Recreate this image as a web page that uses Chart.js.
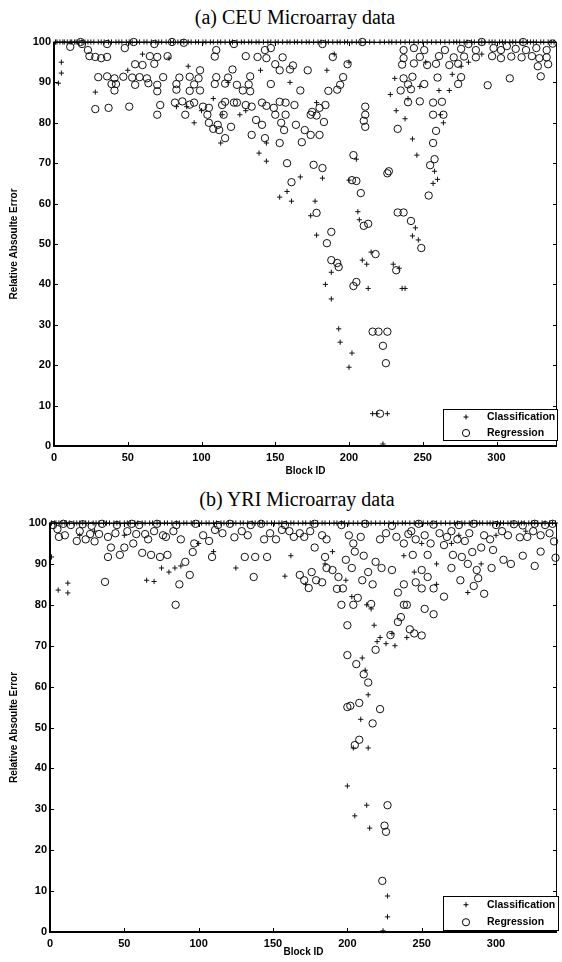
<!DOCTYPE html>
<html>
<head>
<meta charset="utf-8">
<script src="https://cdn.jsdelivr.net/npm/chart.js@4.4.1/dist/chart.umd.min.js"></script>
<style>
  body { margin: 0; background: #fff; width: 562px; height: 962px; overflow: hidden; position: relative; }
  .panel { position: absolute; left: 0; width: 562px; height: 481px; }
  .panel canvas { position: absolute; left: 0; top: 0; }
  .panel-title { position: absolute; left: 0; width: 562px; text-align: center; font-family: "Liberation Serif", "DejaVu Serif", serif; font-size: 20px; color: #000; white-space: nowrap; }
</style>
</head>
<body>
<div class="panel" style="top:0">
  <div class="panel-title" style="top:6px; left:34px; width:522px">(a) CEU Microarray data</div>
  <canvas id="ceuChart" width="562" height="481"></canvas>
</div>
<div class="panel" style="top:481px">
  <div class="panel-title" style="top:7px; left:36px; width:522px">(b) YRI Microarray data</div>
  <canvas id="yriChart" width="562" height="481"></canvas>
</div>
<script>
/* ---------------- AXES ---------------- */

const xTicks = [0, 50, 100, 150, 200, 250, 300];
const yTicks = [0, 10, 20, 30, 40, 50, 60, 70, 80, 90, 100];
const X_MAX = 341;
const seriesNames = ["Classification", "Regression"];

/* ---------------- CEU DATA ---------------- */

// blocks where classification error sits on the 100 line
const ceuClsAt100 = [1, 2, 4, 6, 7, 9, 11, 12, 14, 15, 17, 19, 21, 23, 25, 27, 30, 32, 34, 37, 39, 42, 44,
  46, 49, 51, 53, 56, 58, 61, 63, 66, 69, 71, 73, 76, 79, 81, 84, 86, 88, 91, 93, 96, 98, 101, 103, 106,
  108, 111, 113, 116, 119, 121, 124, 127, 129, 132, 134, 137, 139, 142, 145, 147, 150, 152, 155, 158, 160,
  163, 165, 168, 171, 173, 176, 179, 181, 184, 186, 189, 192, 194, 197, 199, 202, 205, 208, 211, 214, 217,
  221, 224, 227, 229, 232, 235, 238, 241, 244, 247, 250, 253, 256, 259, 262, 265, 268, 271, 273, 275, 278,
  280, 283, 285, 288, 290, 292, 295, 297, 299, 302, 304, 306, 309, 311, 313, 316, 318, 321, 323, 325, 327,
  330, 332, 335, 337, 339];

const ceuCls = [
  [3, 89.8], [5, 95], [5, 92.3], [28, 87.6], [50, 93], [60, 97], [78, 96], [83, 84], [90, 84], [91, 94],
  [95, 80], [100, 83], [108, 86], [113, 75], [114, 82], [118, 90], [126, 82], [130, 83], [139, 72.5],
  [140, 93], [144, 75], [144, 70.5], [153, 61.6], [158, 63], [160, 90], [161, 60.6], [167, 66.6],
  [174, 57], [177, 60.6], [178, 85], [178, 52.2], [182, 66.3], [184, 40], [185, 93], [188, 43],
  [188, 36.4], [190, 97], [193, 29], [194, 25.7], [200, 95], [200, 65.8], [200, 19.5], [202, 23],
  [205, 71], [206, 58], [207, 56], [209, 46], [212, 45], [213, 39], [215, 48], [216, 8], [219, 8],
  [223, 0.5], [226, 8], [228, 87], [230, 45], [231, 91], [232, 83], [234, 44], [236, 39], [238, 39],
  [238, 81], [240, 86], [243, 52], [243, 76], [245, 54], [246, 72], [247, 51], [248, 89], [252, 95],
  [257, 65], [258, 68], [260, 66], [261, 88], [262, 82], [264, 80], [268, 88], [270, 92], [276, 94],
  [281, 95], [290, 97]
];

const ceuReg = [
  [11, 98.8], [18, 100], [19, 99.5], [23, 98], [36, 99.5], [48, 98.5], [54, 100], [68, 99.5], [80, 100],
  [88, 99.8], [110, 98], [122, 99.5], [143, 98], [147, 98.5], [182, 99.5], [209, 100], [237, 98],
  [244, 98.5], [251, 98], [265, 98], [276, 98.3], [281, 99.5], [286, 98], [290, 100], [298, 98.5],
  [303, 98], [307, 99], [313, 98.3], [318, 100], [320, 98], [327, 98.5], [334, 98], [338, 99.6],
  [24, 96.5], [28, 96.3], [32, 96], [36, 96.3], [65, 96.5], [70, 96.3], [77, 96.5], [109, 96.4],
  [130, 96.5], [138, 96.3], [144, 96], [155, 96.2], [189, 96.3], [237, 96], [248, 96.3], [261, 96.5],
  [271, 96.2], [278, 96.4], [286, 96.2], [297, 96.5], [303, 96], [310, 96.4], [317, 96.2], [324, 96.5],
  [329, 96], [334, 96.2],
  [55, 94.5], [60, 94.3], [68, 94.6], [150, 94.5], [162, 94.2], [199, 94.5], [236, 94.4], [244, 94.7],
  [253, 94.3], [259, 94.6], [268, 94.3], [274, 94.6], [328, 94], [335, 94.5], [99, 93], [121, 93.2],
  [153, 93], [160, 93.2], [172, 93],
  [30, 91.3], [36, 91.5], [41, 91], [47, 91.4], [53, 91.2], [58, 91.3], [63, 91], [74, 91.3], [85, 91.2],
  [92, 91.4], [98, 91], [110, 91.3], [118, 91.2], [133, 91.5], [196, 91.3], [237, 91], [243, 91.4],
  [260, 91.2], [276, 91.3], [309, 91], [330, 91.5],
  [39, 89.6], [42, 89.6], [55, 89.4], [64, 89.8], [70, 89.4], [83, 89.6], [95, 89.5], [109, 89.6],
  [116, 89.7], [124, 89.4], [132, 89.5], [147, 89.6], [194, 89.4], [240, 89.5], [251, 89.6], [274, 89.6],
  [294, 89.3],
  [41, 88], [70, 87.8], [83, 88.2], [92, 87.9], [99, 88], [128, 88], [133, 87.8], [167, 88], [186, 87.9],
  [192, 88.2], [235, 88], [242, 88.3],
  [82, 85], [87, 85.3], [95, 85], [116, 85.2], [122, 85], [141, 85], [153, 85.2], [240, 85.1], [248, 85.3],
  [257, 85], [263, 85.2],
  [72, 84.4], [92, 84.5], [101, 84], [105, 83.7], [114, 84.4], [124, 85], [130, 84.4], [134, 84],
  [144, 84.2], [149, 83.7], [157, 85], [163, 84.4], [175, 82.7], [180, 83.7], [184, 84.4],
  [28, 83.4], [37, 83.7], [51, 84], [70, 82], [89, 82], [104, 82], [115, 82], [150, 82], [157, 82],
  [174, 82], [178, 81.8], [211, 82], [257, 82], [264, 82],
  [105, 80], [111, 79.5], [112, 78.2], [120, 79], [116, 76.2], [137, 80.7], [141, 79.5], [134, 77],
  [143, 76.2], [154, 80], [156, 78.2], [164, 79.5], [170, 78.2], [174, 77], [180, 77], [183, 80.2],
  [108, 78.5], [211, 79], [233, 78.5], [210, 80.5], [211, 84],
  [153, 75], [168, 75.2], [158, 70], [176, 69.6], [182, 68.8], [161, 65.3], [203, 72], [202, 65.8],
  [205, 65.6], [226, 67.5], [227, 68], [257, 75], [259, 78], [255, 69.5], [258, 71],
  [178, 57.7], [188, 53], [185, 50.2], [188, 46], [192, 45.3], [193, 44.3], [208, 62.6], [210, 54.5],
  [213, 55], [218, 47.5], [203, 39.6], [205, 40.6], [233, 57.8], [237, 57.8], [232, 43.5], [242, 55.7],
  [254, 62], [249, 49],
  [216, 28.3], [220, 28.3], [226, 28.3], [223, 24.8], [225, 20.5], [221, 8]
];

/* ---------------- YRI DATA ---------------- */

const yriClsAt100 = [1, 3, 4, 6, 8, 10, 11, 13, 16, 18, 20, 22, 24, 26, 29, 31, 33, 36, 38, 40, 43, 45, 47,
  50, 52, 54, 57, 59, 62, 64, 67, 69, 72, 74, 77, 79, 82, 85, 87, 90, 92, 95, 97, 100, 102, 105, 107, 110,
  112, 115, 117, 120, 123, 125, 128, 130, 133, 136, 138, 141, 143, 146, 149, 151, 154, 156, 159, 162, 164,
  167, 170, 172, 175, 177, 180, 183, 185, 188, 191, 193, 196, 198, 201, 204, 207, 210, 213, 216, 219, 222,
  225, 228, 231, 234, 237, 239, 242, 245, 248, 251, 254, 257, 260, 263, 266, 269, 272, 274, 277, 279, 282,
  284, 287, 289, 291, 294, 296, 298, 301, 303, 305, 308, 310, 312, 315, 317, 319, 322, 324, 326, 328, 331,
  333, 336, 338, 340];

const yriCls = [
  [1, 91.7], [5.5, 83.6], [12, 85.3], [12, 82.9], [20, 97], [30, 98], [50, 97], [65, 86], [70, 85.7],
  [75, 89], [80, 88], [84, 89], [88, 89.5], [100, 95], [110, 93], [125, 89], [158, 87], [162, 92],
  [172, 85], [185, 90], [190, 93], [199, 86], [200, 35.7], [203, 82], [204, 45], [205, 28.4], [209, 52],
  [210, 67], [212, 64], [213, 80], [213, 31], [214, 58], [214, 45], [215, 25.4], [216, 79], [218, 75],
  [220, 71], [222, 72], [224, 0.3], [226, 70.5], [227, 8.8], [227, 3.7], [230, 73], [232, 70], [238, 92],
  [240, 72], [245, 88], [250, 95], [260, 90], [260, 85], [270, 95], [275, 97], [281, 83], [290, 90],
  [300, 97], [320, 98]
];

const yriReg = [
  [2, 99.5], [5, 98.5], [9, 99.8], [14, 99.5], [22, 99.7], [28, 99.3], [35, 99.8], [45, 99.5], [55, 99.8],
  [60, 99.5], [72, 99.8], [85, 99.5], [98, 99.8], [113, 99.5], [121, 99.8], [135, 99.5], [142, 99.8],
  [158, 99.5], [178, 99.8], [196, 99.5], [212, 99.8], [230, 99.3], [248, 99.8], [258, 99.6], [275, 99.5],
  [285, 99.8], [300, 99.5], [312, 99.7], [318, 99.4], [326, 99.8], [333, 99.5], [338, 99.8],
  [10, 97], [20, 98], [24, 96], [30, 95.5], [44, 97.5], [52, 98], [56, 95], [66, 96], [70, 98], [76, 97],
  [83, 98], [88, 96], [103, 97], [116, 97.5], [124, 96.5], [129, 98], [133, 97], [148, 97.5], [161, 98],
  [168, 97.5], [175, 98], [186, 96], [201, 97], [204, 95], [222, 96], [226, 97.5], [238, 95], [243, 98],
  [252, 97], [256, 95], [262, 97.5], [270, 98], [274, 96], [282, 97.5], [292, 97], [296, 96], [304, 98],
  [308, 97], [316, 96.5], [325, 98], [330, 97], [336, 97.5],
  [6, 96.6], [18, 95.6], [27, 97.3], [33, 97.3], [39, 96.6], [41, 94], [39, 91.7], [47, 92.2], [50, 94],
  [37, 85.6], [58, 97.3], [62, 92.7], [64, 97.3], [68, 92.2], [74, 91.7], [78, 96.6], [79, 92.2],
  [91, 90.5], [96, 92.9], [97, 95], [87, 85], [94, 87.3], [84.5, 80], [107, 95.6], [109, 91.7], [111, 98.3],
  [137, 86.8], [131, 91.7], [138, 91.7], [144, 96], [152, 96], [146, 91.7], [156, 98.3], [164, 96.6],
  [171, 96.6], [178, 94], [183, 97], [185, 91.7], [190, 88.5], [194, 86.8], [168, 87.3], [171, 86],
  [174, 84.1], [193, 83.9], [197, 84], [209, 96.6], [219, 90.5], [223, 89], [230, 88.5], [233, 96.6],
  [241, 97.3], [246, 96], [244, 92.2], [254, 92.2], [250, 88.5], [254, 86.8], [250, 84], [258, 84],
  [265, 94.6], [267, 96.6], [279, 95.6], [284, 92.9], [290, 94], [298, 93.4], [287, 88.5], [271, 92.2],
  [277, 91.7], [285, 84.6], [321, 96.6], [340, 91.5], [339, 95.5],
  [217, 85], [216, 80.2], [207, 81.7], [238, 80], [258, 77.7],
  [200, 67.7], [206, 65.5], [200, 55], [202, 55.3], [208, 56], [205, 45.7], [208, 47], [217, 51],
  [222, 54.5], [225, 26], [227, 31], [226, 24.5], [223.5, 12.5], [229, 72.6], [234, 75.8], [211, 63],
  [214, 61], [219, 69], [236, 77], [242, 74], [245, 73], [250, 72.5], [240, 80], [252, 79], [234, 83],
  [238, 85], [246, 85.5], [200, 75], [196, 80], [204, 80], [210, 86], [214, 88], [203, 89], [199, 91],
  [205, 93], [211, 92], [183, 85.5], [179, 86], [176, 88], [186, 89], [265, 82], [270, 89], [276, 86],
  [281, 90], [292, 82.7], [305, 91], [310, 90], [318, 92], [326, 89.5], [330, 93], [288, 86.5], [297, 89]
];

/* ---------------- PLUGINS ---------------- */

// box frame with inward ticks, heavier left/bottom axis lines
const framePlugin = {
  id: "frame",
  afterDatasetsDraw(chart) {
    const { ctx, chartArea: a, scales: { x, y } } = chart;
    ctx.save();
    ctx.strokeStyle = "#000";
    ctx.lineWidth = 1;
    ctx.beginPath();
    x.ticks.forEach((t) => {
      const px = Math.round(x.getPixelForValue(t.value)) + 0.5;
      ctx.moveTo(px, a.bottom);
      ctx.lineTo(px, a.bottom - 4);
      ctx.moveTo(px, a.top);
      ctx.lineTo(px, a.top + 4);
    });
    y.ticks.forEach((t) => {
      const py = Math.round(y.getPixelForValue(t.value)) + 0.5;
      ctx.moveTo(a.left, py);
      ctx.lineTo(a.left + 4, py);
      ctx.moveTo(a.right, py);
      ctx.lineTo(a.right - 4, py);
    });
    ctx.stroke();
    ctx.strokeRect(a.left + 0.5, a.top + 0.5, a.width - 1, a.height - 1);
    ctx.lineWidth = 2;
    ctx.beginPath();
    ctx.moveTo(a.left, a.top);
    ctx.lineTo(a.left, a.bottom);
    ctx.lineTo(a.right, a.bottom);
    ctx.stroke();
    ctx.restore();
  },
};

// legend box sitting inside the plot, lower right
const boxLegendPlugin = {
  id: "boxLegend",
  afterDraw(chart, args, opts) {
    const { ctx } = chart;
    const { left, top, right, bottom } = opts;
    ctx.save();
    ctx.fillStyle = "#fff";
    ctx.fillRect(left, top, right - left, bottom - top);
    ctx.strokeStyle = "#000";
    ctx.lineWidth = 1;
    ctx.strokeRect(left + 0.5, top + 0.5, right - left - 1, bottom - top - 1);

    const rowH = (bottom - top) / 2;
    chart.data.datasets.forEach((ds, i) => {
      const cy = top + rowH * (i + 0.5);
      const mx = left + 23;
      ctx.strokeStyle = "#000";
      ctx.lineWidth = 1;
      ctx.beginPath();
      if (ds.pointStyle === "cross") {
        ctx.moveTo(mx - 2.5, cy);
        ctx.lineTo(mx + 2.5, cy);
        ctx.moveTo(mx, cy - 2.5);
        ctx.lineTo(mx, cy + 2.5);
      } else {
        ctx.arc(mx, cy, 3.6, 0, Math.PI * 2);
      }
      ctx.stroke();
      ctx.fillStyle = "#000";
      ctx.font = "bold 10.5px 'Liberation Sans', Arial, sans-serif";
      ctx.textBaseline = "middle";
      ctx.textAlign = "left";
      ctx.fillText(ds.label, left + 44, cy);
    });
    ctx.restore();
  },
};

/* ---------------- CHARTS ---------------- */

function toPoints(pairs) {
  return pairs.map(([x, y]) => ({ x, y }));
}

function makeChart(id, clsPoints, regPoints, area, legendBox) {
  const ctx = document.getElementById(id).getContext("2d");
  const tickFont = { family: "'Liberation Sans', Arial, sans-serif", size: 11, weight: "bold" };
  const titleFont = { family: "'Liberation Sans', Arial, sans-serif", size: 10, weight: "bold" };

  return new Chart(ctx, {
    type: "scatter",
    data: {
      datasets: [
        {
          label: seriesNames[0],
          data: clsPoints,
          pointStyle: "cross",
          pointRadius: 2.6,
          borderColor: "#111",
          borderWidth: 1,
          clip: false,
        },
        {
          label: seriesNames[1],
          data: regPoints,
          pointStyle: "circle",
          pointRadius: 3.7,
          borderColor: "#111",
          backgroundColor: "rgba(0,0,0,0)",
          borderWidth: 1,
          clip: false,
        },
      ],
    },
    options: {
      responsive: false,
      animation: false,
      events: [],
      layout: { padding: { left: 0, top: area.top, right: 562 - area.right, bottom: 0 } },
      plugins: {
        legend: { display: false },
        tooltip: { enabled: false },
        boxLegend: legendBox,
      },
      scales: {
        x: {
          type: "linear",
          min: 0,
          max: X_MAX,
          afterBuildTicks: (s) => { s.ticks = xTicks.map((v) => ({ value: v })); },
          afterFit: (s) => { s.height = 481 - area.bottom; },
          grid: { display: false, drawTicks: false },
          border: { display: false },
          ticks: { color: "#000", font: tickFont, padding: 5, maxRotation: 0 },
          title: { display: true, text: "Block ID", color: "#000", font: titleFont, padding: { top: 0, bottom: 4 } },
        },
        y: {
          type: "linear",
          min: 0,
          max: 100,
          afterBuildTicks: (s) => { s.ticks = yTicks.map((v) => ({ value: v })); },
          afterFit: (s) => { s.width = area.left; },
          grid: { display: false, drawTicks: false },
          border: { display: false },
          ticks: { color: "#000", font: tickFont, padding: 3 },
          title: { display: true, text: "Relative Absoulte Error", color: "#000", font: titleFont, padding: { top: 8, bottom: 0 } },
        },
      },
    },
    plugins: [framePlugin, boxLegendPlugin],
  });
}

const ceuChart = makeChart(
  "ceuChart",
  toPoints(ceuClsAt100.map((b) => [b, 100]).concat(ceuCls)),
  toPoints(ceuReg),
  { left: 54, right: 559, top: 42, bottom: 446 },
  { left: 443, top: 409, right: 558, bottom: 441 }
);

const yriChart = makeChart(
  "yriChart",
  toPoints(yriClsAt100.map((b) => [b, 100]).concat(yriCls)),
  toPoints(yriReg),
  { left: 50, right: 559, top: 42, bottom: 451 },
  { left: 443, top: 415, right: 559, bottom: 450 }
);
</script>
</body>
</html>
